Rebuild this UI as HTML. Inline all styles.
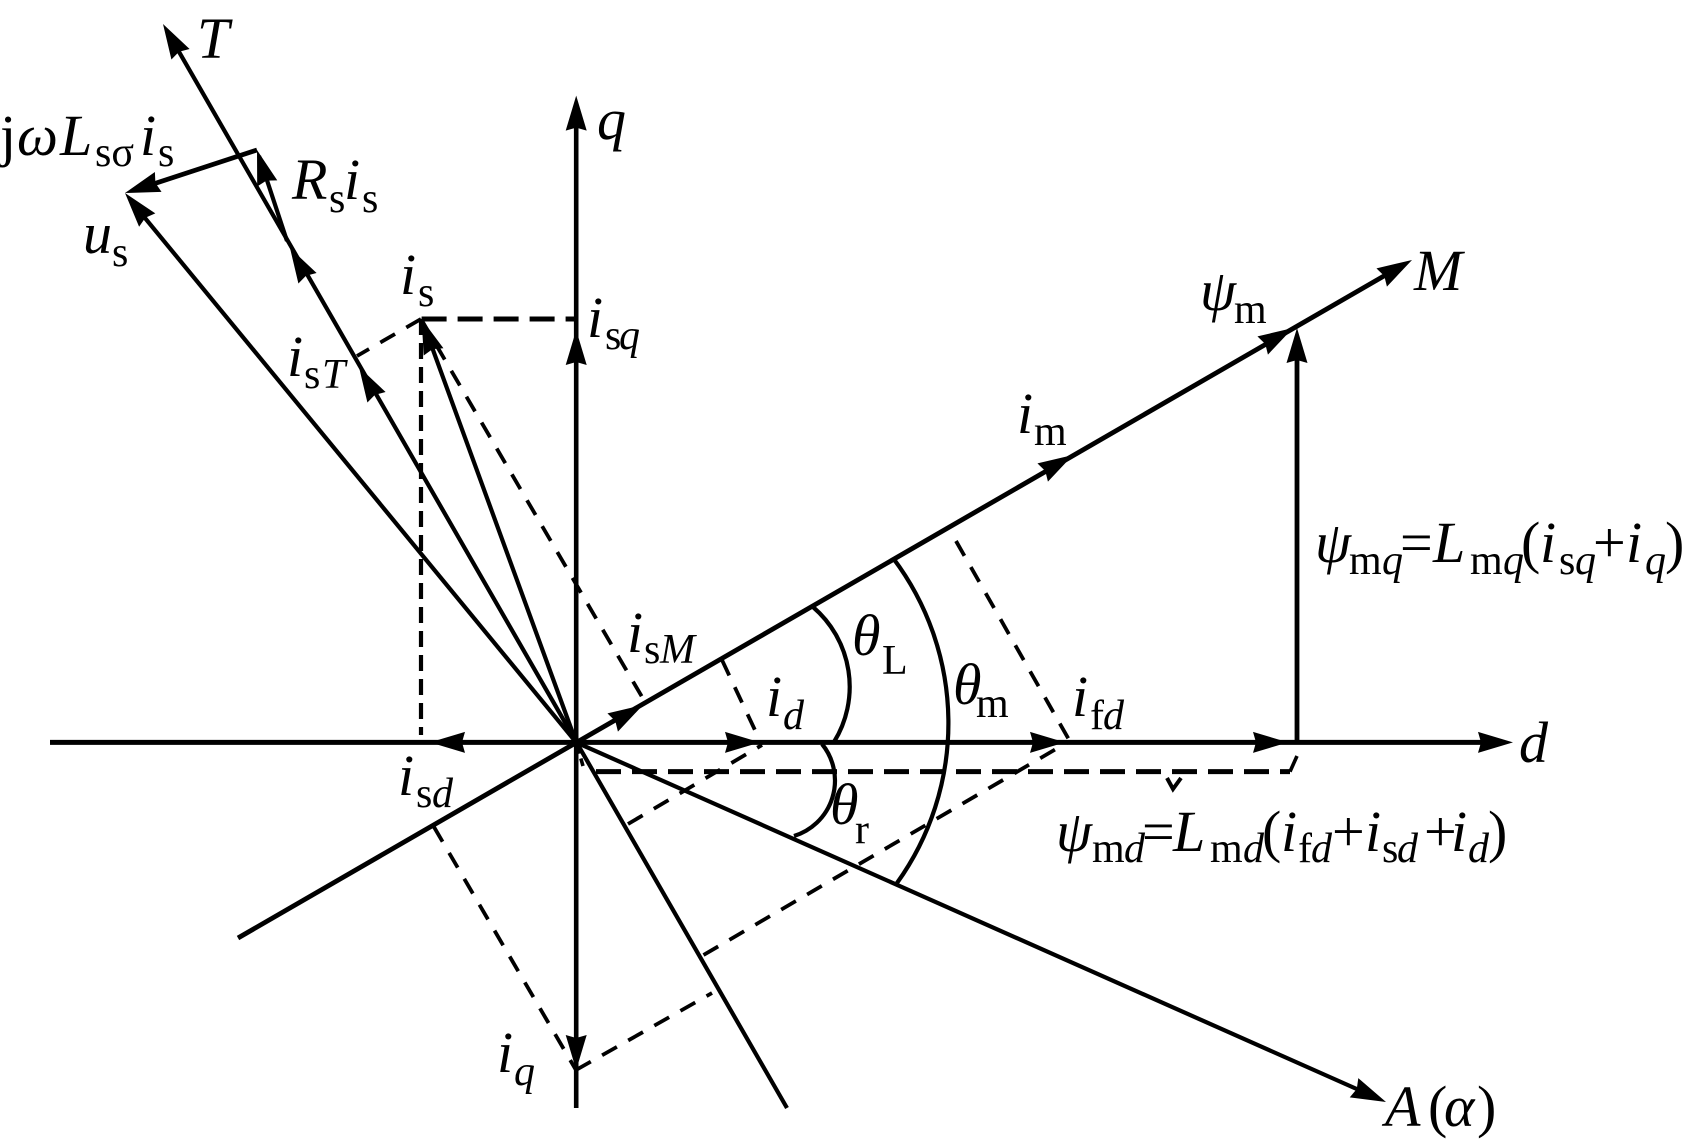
<!DOCTYPE html>
<html><head><meta charset="utf-8"><style>
html,body{margin:0;padding:0;background:#fff}
svg{display:block}
text{font-family:"Liberation Serif",serif;fill:#000}
.m{font-size:58px;font-style:italic}
.u{font-size:58px}
.si{font-size:42px;font-style:italic}
.s{font-size:42px}
line,path.l{stroke:#000;stroke-width:4.2;fill:none}
.d1{stroke-width:3.8;stroke-dasharray:17 13}
.d2{stroke-width:5;stroke-dasharray:25 11}
</style></head><body>
<svg width="1684" height="1144" viewBox="0 0 1684 1144" xmlns="http://www.w3.org/2000/svg">
<defs><polygon id="a" points="0,0 -35,-10.5 -32,0 -35,10.5" fill="#000"/></defs>
<rect width="1684" height="1144" fill="#fff"/>
<!-- axes -->
<line x1="50" y1="742.4" x2="1503" y2="742.4" style="stroke-width:5"/>
<line x1="576.2" y1="106" x2="576.2" y2="1108" style="stroke-width:4.6"/>
<line x1="238" y1="938" x2="1403" y2="265" style="stroke-width:4.8"/>
<line x1="787" y1="1108" x2="168" y2="32.7"/>
<line x1="576.2" y1="742.4" x2="1377" y2="1098"/>
<line x1="576.2" y1="742.4" x2="131" y2="201"/>
<line x1="576.2" y1="742.4" x2="425" y2="328"/>
<line x1="1297" y1="742" x2="1297" y2="345" style="stroke-width:4.8"/>
<line x1="287" y1="241" x2="259" y2="156"/>
<line x1="257" y1="150" x2="135" y2="190" style="stroke-width:4.8"/>
<!-- dashed -->
<line class="d2" x1="421.6" y1="319" x2="576" y2="319"/>
<line class="d1" x1="421" y1="319" x2="421" y2="735" style="stroke-width:4.2;stroke-dasharray:16 8"/>
<line class="d1" x1="421" y1="319" x2="357" y2="356"/>
<line class="d1" x1="421" y1="319" x2="645" y2="702"/>
<line class="d1" x1="434" y1="827" x2="576" y2="1070"/>
<line class="d1" x1="576" y1="1070" x2="712" y2="993"/>
<line class="d1" x1="703.5" y1="955" x2="1068" y2="742"/>
<line class="d1" x1="628" y1="824" x2="762" y2="745"/>
<line class="d1" x1="722" y1="660" x2="762" y2="745"/>
<line class="d1" x1="956" y1="541" x2="1072" y2="745"/>
<line class="d2" x1="596" y1="771.6" x2="1290" y2="771.6"/>
<line x1="1290" y1="771.6" x2="1297" y2="756" style="stroke-width:3.6"/>
<line x1="577" y1="745" x2="583" y2="766" style="stroke-width:3.6;stroke-dasharray:9 5"/>
<path class="l" d="M1167 778L1173 789L1181 778" style="stroke-width:4"/>
<!-- arcs -->
<path class="l" d="M813 607A105 105 0 0 1 834 742"/>
<path class="l" d="M893 558A274 274 0 0 1 897 883"/>
<path class="l" d="M822 744A58 58 0 0 1 794 836"/>
<!-- arrowheads -->
<use href="#a" transform="translate(1513,742.4)"/>
<use href="#a" transform="translate(1288,742.4)"/>
<use href="#a" transform="translate(1065,742.4)"/>
<use href="#a" transform="translate(760,742.4)"/>
<use href="#a" transform="translate(430,742.4) rotate(180)"/>
<use href="#a" transform="translate(576.2,95.6) rotate(-90)"/>
<use href="#a" transform="translate(576.2,330) rotate(-90)"/>
<use href="#a" transform="translate(576.2,1070) rotate(90)"/>
<use href="#a" transform="translate(1297,328) rotate(-90)"/>
<use href="#a" transform="translate(1412,260) rotate(-30)"/>
<use href="#a" transform="translate(1293,328) rotate(-30)"/>
<use href="#a" transform="translate(1073,455) rotate(-30)"/>
<use href="#a" transform="translate(643,705) rotate(-30)"/>
<use href="#a" transform="translate(163,24) rotate(-120)"/>
<use href="#a" transform="translate(290,248) rotate(-120)"/>
<use href="#a" transform="translate(359,367) rotate(-120)"/>
<use href="#a" transform="translate(1386,1102) rotate(24)"/>
<use href="#a" transform="translate(125,193) rotate(-129.4)"/>
<use href="#a" transform="translate(421.6,319) rotate(-110)"/>
<use href="#a" transform="translate(257,150) rotate(-107)"/>
<use href="#a" transform="translate(125,193) rotate(161.6)"/>
<!-- labels -->
<text class="m" x="197" y="58">T</text>
<text class="m" x="597" y="139">q</text>
<text class="u" x="0" y="155" style="font-style:normal">j</text>
<text class="m" x="17" y="155">ω</text>
<text class="m" x="60" y="155">L</text>
<text class="s" x="95" y="166">sσ</text>
<text class="m" x="140" y="155">i</text>
<text class="s" x="158" y="166">s</text>
<text class="m" x="292" y="199">R</text>
<text class="s" x="329" y="212">s</text>
<text class="m" x="344" y="199">i</text>
<text class="s" x="362" y="212">s</text>
<text class="m" x="83" y="253">u</text>
<text class="s" x="112" y="266">s</text>
<text class="m" x="400" y="294">i</text>
<text class="s" x="418" y="306">s</text>
<text class="m" x="587" y="337">i</text>
<text class="s" x="605" y="349">s</text>
<text class="si" x="619" y="349">q</text>
<text class="m" x="287" y="376">i</text>
<text class="s" x="304" y="388">s</text>
<text class="si" x="322" y="388">T</text>
<text class="m" x="1200" y="310">ψ</text>
<text class="s" x="1234" y="323">m</text>
<text class="m" x="1414" y="290">M</text>
<text class="m" x="1017" y="433">i</text>
<text class="s" x="1034" y="445">m</text>
<!-- psi mq -->
<text class="m" x="1315" y="562">ψ</text>
<text class="s" x="1349" y="574">m</text>
<text class="si" x="1382" y="574">q</text>
<text class="u" x="1400" y="562">=</text>
<text class="m" x="1433" y="562">L</text>
<text class="s" x="1470" y="574">m</text>
<text class="si" x="1503" y="574">q</text>
<text class="u" x="1521" y="562">(</text>
<text class="m" x="1540" y="562">i</text>
<text class="s" x="1559" y="574">s</text>
<text class="si" x="1575" y="574">q</text>
<text class="u" x="1593" y="562">+</text>
<text class="m" x="1626" y="562">i</text>
<text class="si" x="1645" y="574">q</text>
<text class="u" x="1665" y="562">)</text>
<!-- psi md -->
<text class="m" x="1056" y="851">ψ</text>
<text class="s" x="1092" y="862">m</text>
<text class="si" x="1124" y="862">d</text>
<text class="u" x="1142" y="851">=</text>
<text class="m" x="1173" y="851">L</text>
<text class="s" x="1210" y="862">m</text>
<text class="si" x="1243" y="862">d</text>
<text class="u" x="1262" y="851">(</text>
<text class="m" x="1281" y="851">i</text>
<text class="s" x="1298" y="862">f</text>
<text class="si" x="1311" y="862">d</text>
<text class="u" x="1332" y="851">+</text>
<text class="m" x="1365" y="851">i</text>
<text class="s" x="1382" y="862">s</text>
<text class="si" x="1397" y="862">d</text>
<text class="u" x="1424" y="851">+</text>
<text class="m" x="1451" y="851">i</text>
<text class="si" x="1468" y="862">d</text>
<text class="u" x="1488" y="851">)</text>
<!-- angle labels -->
<text class="m" x="852" y="655">θ</text>
<text class="s" x="882" y="674">L</text>
<text class="m" x="953" y="704">θ</text>
<text class="s" x="976" y="717">m</text>
<text class="m" x="830" y="824">θ</text>
<text class="s" x="855" y="843">r</text>
<text class="m" x="1072" y="716">i</text>
<text class="s" x="1090" y="729">f</text>
<text class="si" x="1103" y="729">d</text>
<text class="m" x="1519" y="762">d</text>
<text class="m" x="1385" y="1126">A</text>
<text class="u" x="1428" y="1126">(</text>
<text class="m" x="1444" y="1126">α</text>
<text class="u" x="1477" y="1126">)</text>
<text class="m" x="627" y="652">i</text>
<text class="s" x="644" y="663">s</text>
<text class="si" x="660" y="663">M</text>
<text class="m" x="766" y="716">i</text>
<text class="si" x="783" y="729">d</text>
<text class="m" x="398" y="795">i</text>
<text class="s" x="416" y="807">s</text>
<text class="si" x="432" y="807">d</text>
<text class="m" x="497" y="1072">i</text>
<text class="si" x="514" y="1085">q</text>
</svg>
</body></html>
